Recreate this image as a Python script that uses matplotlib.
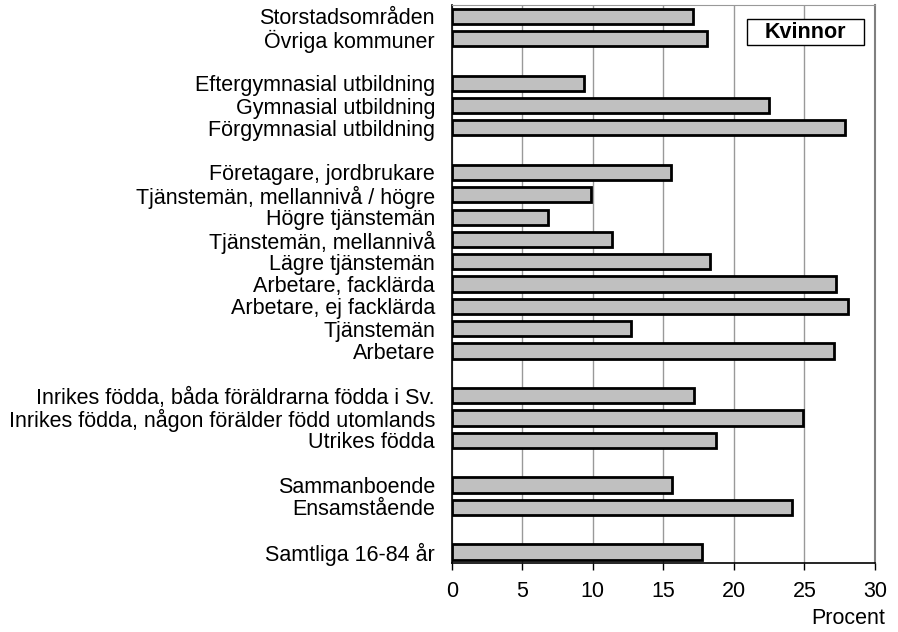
import matplotlib.pyplot as plt
from matplotlib.patches import Rectangle

plt.rcParams['font.family'] = ['Liberation Sans', 'DejaVu Sans']

# grupper uppifrån och ner
region_labels = ["Storstadsområden", "Övriga kommuner"]
region_values = [17.1, 18.1]

utb_labels = ["Eftergymnasial utbildning", "Gymnasial utbildning", "Förgymnasial utbildning"]
utb_values = [9.35, 22.5, 27.9]

sei_labels = ["Företagare, jordbrukare", "Tjänstemän, mellannivå / högre", "Högre tjänstemän",
              "Tjänstemän, mellannivå", "Lägre tjänstemän", "Arbetare, facklärda",
              "Arbetare, ej facklärda", "Tjänstemän", "Arbetare"]
sei_values = [15.55, 9.85, 6.8, 11.35, 18.3, 27.2, 28.1, 12.7, 27.1]

fodd_labels = ["Inrikes födda, båda föräldrarna födda i Sv.",
               "Inrikes födda, någon förälder född utomlands", "Utrikes födda"]
fodd_values = [17.15, 24.9, 18.7]

civil_labels = ["Sammanboende", "Ensamstående"]
civil_values = [15.6, 24.1]

total_labels = ["Samtliga 16-84 år"]
total_values = [17.75]

groups = [(region_labels, region_values), (utb_labels, utb_values), (sei_labels, sei_values),
          (fodd_labels, fodd_values), (civil_labels, civil_values), (total_labels, total_values)]

pos = []
labels = []
values = []
y = 0
for labs, vals in groups:
    for l, v in zip(labs, vals):
        pos.append(y)
        labels.append(l)
        values.append(v)
        y += 1
    y += 1  # tom rad mellan grupperna
nrows = y - 1

fs = 15.5

fig = plt.figure(figsize=(8.98, 6.32), dpi=100)
ax = fig.add_axes([0.503, 0.109, 0.4714, 0.883])

ax.barh(pos, values, height=0.68, color="#C0C0C0", edgecolor="black", linewidth=2, zorder=3)

ax.set_xlim(0, 30)
ax.set_ylim(nrows - 0.5, -0.5)
ax.set_xticks(range(0, 31, 5))
ax.set_yticks(pos)
ax.set_yticklabels(labels, fontsize=fs)
ax.tick_params(axis="y", length=0, pad=12)
ax.tick_params(axis="x", direction="out", length=5, width=1, labelsize=fs, pad=8)
ax.grid(axis="x", color="#999999", linewidth=1, zorder=0)

ax.spines["left"].set_color("black")
ax.spines["bottom"].set_color("black")
ax.spines["left"].set_linewidth(1.2)
ax.spines["bottom"].set_linewidth(1.2)
ax.spines["top"].set_color("#999999")
ax.spines["right"].set_color("#808080")
ax.spines["right"].set_linewidth(1.5)

ax.add_patch(Rectangle((0.697, 0.9277), 0.278, 0.0472, transform=ax.transAxes,
                       facecolor="white", edgecolor="black", linewidth=1, zorder=5))
ax.text(0.836, 0.9513, "Kvinnor", transform=ax.transAxes, ha="center", va="center",
        fontsize=fs, fontweight="bold", zorder=6)

fig.text(0.944, 0.0206, "Procent", ha="center", va="center", fontsize=fs)

plt.savefig("out.png", dpi=100)
